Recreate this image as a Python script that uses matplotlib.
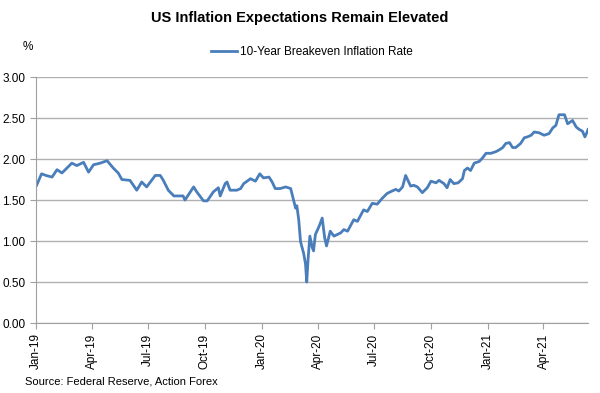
import matplotlib
matplotlib.use("Agg")
import matplotlib.pyplot as plt
import matplotlib.dates as mdates
import pandas as pd

# 10-year breakeven inflation rate (%)
dates = [
    "2019-01-02", "2019-01-10", "2019-01-17", "2019-01-27", "2019-02-04", "2019-02-12",
    "2019-02-28", "2019-03-08", "2019-03-19", "2019-03-27", "2019-04-04", "2019-04-15",
    "2019-04-26", "2019-05-06", "2019-05-14", "2019-05-20", "2019-06-02", "2019-06-13",
    "2019-06-21", "2019-06-29", "2019-07-13", "2019-07-21", "2019-07-26", "2019-08-03",
    "2019-08-12", "2019-08-27", "2019-08-30", "2019-09-13", "2019-09-18", "2019-09-29",
    "2019-10-05", "2019-10-15", "2019-10-23", "2019-10-26", "2019-11-03", "2019-11-06",
    "2019-11-11", "2019-11-22", "2019-11-28", "2019-12-03", "2019-12-14", "2019-12-22",
    "2019-12-29", "2020-01-04", "2020-01-13", "2020-01-18", "2020-01-23", "2020-01-31",
    "2020-02-09", "2020-02-17", "2020-02-22", "2020-02-25", "2020-02-27", "2020-03-01",
    "2020-03-04", "2020-03-09", "2020-03-12", "2020-03-14", "2020-03-16", "2020-03-19",
    "2020-03-23", "2020-03-25", "2020-03-28", "2020-04-03", "2020-04-08", "2020-04-12",
    "2020-04-15", "2020-04-21", "2020-04-27", "2020-05-08", "2020-05-13", "2020-05-19",
    "2020-05-29", "2020-06-04", "2020-06-14", "2020-06-20", "2020-06-28", "2020-07-06",
    "2020-07-14", "2020-07-22", "2020-07-30", "2020-08-05", "2020-08-10", "2020-08-16",
    "2020-08-21", "2020-08-29", "2020-09-03", "2020-09-09", "2020-09-17", "2020-09-25",
    "2020-10-01", "2020-10-09", "2020-10-14", "2020-10-22", "2020-10-27", "2020-11-01",
    "2020-11-07", "2020-11-14", "2020-11-21", "2020-11-24", "2020-11-29", "2020-12-04",
    "2020-12-10", "2020-12-18", "2020-12-23", "2020-12-29", "2021-01-06", "2021-01-14",
    "2021-01-19", "2021-01-25", "2021-01-30", "2021-02-05", "2021-02-10", "2021-02-15",
    "2021-02-23", "2021-03-01", "2021-03-06", "2021-03-12", "2021-03-17", "2021-03-25",
    "2021-04-02", "2021-04-10", "2021-04-16", "2021-04-21", "2021-04-26", "2021-05-05",
    "2021-05-10", "2021-05-18", "2021-05-24", "2021-05-29", "2021-06-03", "2021-06-07",
    "2021-06-10", "2021-06-12",
]
breakeven = [
    1.68, 1.82, 1.80, 1.78, 1.87, 1.83,
    1.95, 1.92, 1.96, 1.84, 1.93, 1.95,
    1.98, 1.89, 1.83, 1.75, 1.74, 1.62,
    1.72, 1.66, 1.80, 1.80, 1.74, 1.62,
    1.55, 1.55, 1.50, 1.66, 1.60, 1.49,
    1.49, 1.60, 1.65, 1.55, 1.70, 1.72,
    1.62, 1.62, 1.64, 1.70, 1.76, 1.73,
    1.82, 1.77, 1.78, 1.72, 1.64, 1.64,
    1.66, 1.64, 1.49, 1.40, 1.43, 1.26,
    0.99, 0.85, 0.72, 0.50, 0.76, 1.06,
    0.92, 0.88, 1.08, 1.18, 1.28, 1.04,
    0.94, 1.12, 1.06, 1.10, 1.14, 1.12,
    1.26, 1.24, 1.38, 1.36, 1.46, 1.45,
    1.52, 1.58, 1.61, 1.63, 1.61, 1.66,
    1.80, 1.67, 1.68, 1.66, 1.59, 1.65,
    1.73, 1.71, 1.74, 1.70, 1.65, 1.75,
    1.70, 1.71, 1.76, 1.86, 1.89, 1.86,
    1.95, 1.97, 2.01, 2.07, 2.07, 2.09,
    2.11, 2.14, 2.19, 2.20, 2.14, 2.14,
    2.19, 2.26, 2.27, 2.29, 2.33, 2.32,
    2.29, 2.31, 2.38, 2.41, 2.54, 2.54,
    2.43, 2.47, 2.39, 2.36, 2.34, 2.27,
    2.32, 2.36,
]
y_ticks = [0.0, 0.5, 1.0, 1.5, 2.0, 2.5, 3.0]

plt.rcParams["font.family"] = ["Liberation Sans", "DejaVu Sans"]

x = pd.to_datetime(dates)

fig = plt.figure(figsize=(6.0, 3.93), dpi=100)
ax = fig.add_axes([0.06, 0.178, 0.92, 0.626])

ax.plot(x, breakeven, color="#4a7ebb", linewidth=2.0,
        label="10-Year Breakeven Inflation Rate")

ax.set_ylim(0, 3.0)
ax.set_yticks(y_ticks)
ax.yaxis.set_major_formatter(plt.FuncFormatter(lambda v, _: f"{v:.2f}"))
ax.grid(axis="y", color="#b0b0b0", linewidth=1.0)
ax.set_axisbelow(True)

ax.set_xlim(pd.Timestamp("2019-01-01"), pd.Timestamp("2021-06-12"))
ax.xaxis.set_major_locator(mdates.MonthLocator(bymonth=[1, 4, 7, 10]))
ax.xaxis.set_major_formatter(mdates.DateFormatter("%b-%y"))
for lbl in ax.get_xticklabels():
    lbl.set_rotation(90)

for side in ("top", "right"):
    ax.spines[side].set_visible(False)
for side in ("left", "bottom"):
    ax.spines[side].set_color("#a0a0a0")
ax.tick_params(axis="both", colors="#a0a0a0", labelcolor="black",
               labelsize=8.5, length=4, direction="out")

fig.text(0.5, 0.955, "US Inflation Expectations Remain Elevated",
         ha="center", va="center", fontsize=10.5, fontweight="bold")
fig.text(0.037, 0.88, "%", ha="left", va="center", fontsize=8.5)
ax.legend(loc="upper center", bbox_to_anchor=(0.5, 1.17), frameon=False,
          fontsize=8.5, handlelength=2.2, handletextpad=0.3)
fig.text(0.042, 0.03, "Source: Federal Reserve, Action Forex",
         ha="left", va="center", fontsize=8)

fig.savefig("out.png", dpi=100)
